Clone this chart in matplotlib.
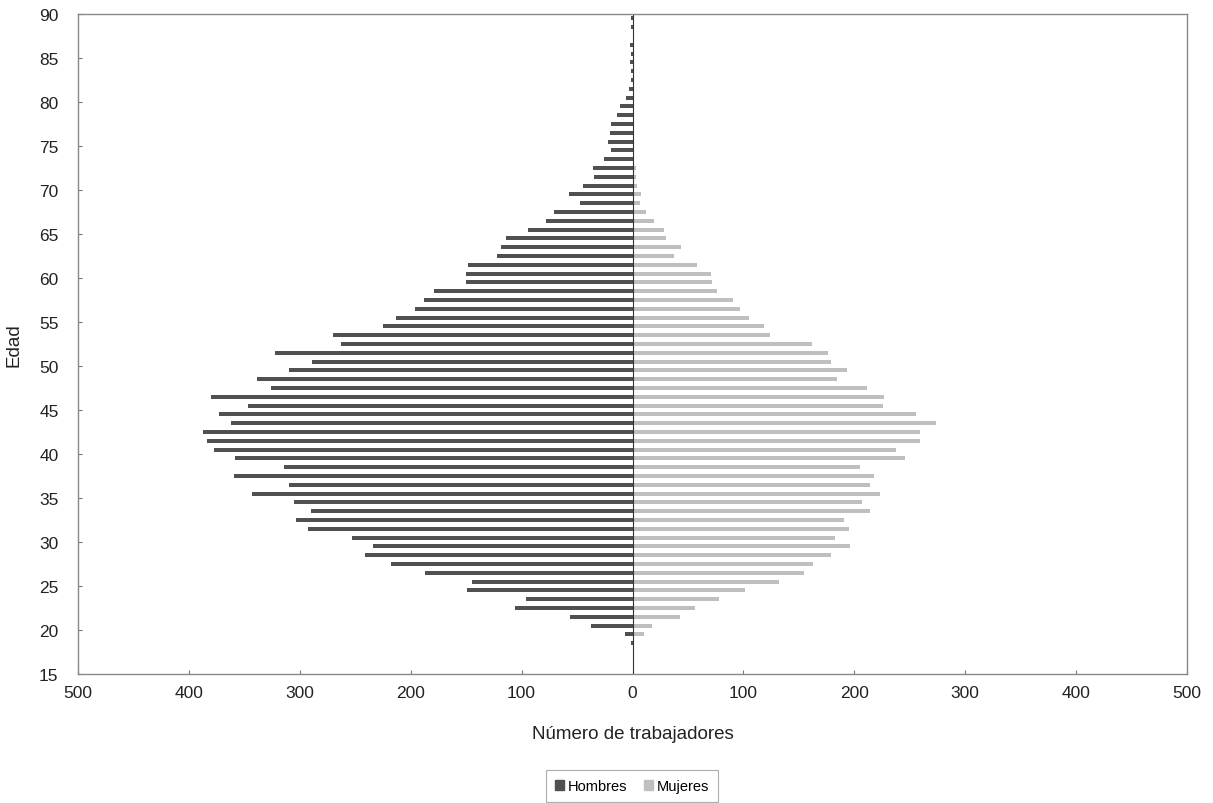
import numpy as np
import matplotlib
matplotlib.use('Agg')
import matplotlib.pyplot as plt
from matplotlib.patches import Patch
from matplotlib.ticker import FuncFormatter

plt.rcParams['font.family'] = ['Liberation Sans', 'DejaVu Sans']

# Edad de 18 a 89 años
edades = list(range(18, 90))

hombres = [
    1, 7, 37, 56, 106, 96, 149, 145, 187, 218,          # 18-27
    241, 234, 253, 293, 303, 290, 305, 343, 310, 359,   # 28-37
    314, 358, 377, 384, 387, 362, 373, 347, 380, 326,   # 38-47
    339, 310, 289, 322, 263, 270, 225, 213, 196, 188,   # 48-57
    179, 150, 150, 148, 122, 119, 114, 94, 78, 71,      # 58-67
    47, 57, 45, 35, 36, 26, 19, 22, 20, 19,             # 68-77
    14, 11, 6, 3, 1, 1, 2, 1, 2, 0,                     # 78-87
    1, 1,                                               # 88-89
]

mujeres = [
    0, 10, 18, 43, 56, 78, 101, 132, 155, 163,          # 18-27
    179, 196, 183, 195, 191, 214, 207, 223, 214, 218,   # 28-37
    205, 246, 238, 259, 259, 274, 256, 226, 227, 211,   # 38-47
    184, 193, 179, 176, 162, 124, 119, 105, 97, 91,     # 48-57
    76, 72, 71, 58, 37, 44, 30, 28, 19, 12,             # 58-67
    7, 8, 4, 3, 3, 1, 0, 0, 0, 0,                       # 68-77
    0, 0, 0, 0, 0, 0, 0, 0, 0, 0,                       # 78-87
    0, 0,                                               # 88-89
]

color_h = '#505050'
color_m = '#bfbfbf'

fig = plt.figure(figsize=(12.13, 8.04), dpi=100)
ax = fig.add_axes([0.0643, 0.1604, 0.9143, 0.8209])

y = np.array(edades) + 0.5
ax.barh(y, -np.array(hombres), height=0.45, color=color_h, linewidth=0)
ax.barh(y, np.array(mujeres), height=0.45, color=color_m, linewidth=0)
ax.axvline(0, color='#333333', linewidth=0.8)

ax.set_xlim(-500, 500)
ax.set_ylim(15, 90)
ax.set_xticks(range(-500, 501, 100))
ax.set_yticks(range(15, 91, 5))
ax.xaxis.set_major_formatter(FuncFormatter(lambda v, p: f"{abs(int(v))}"))
ax.tick_params(axis='both', direction='in', length=3, color='#777777',
               labelsize=12.5, labelcolor='#222222')
ax.tick_params(axis='x', pad=8)
ax.tick_params(axis='y', pad=14)

for s in ax.spines.values():
    s.set_color('#888888')
    s.set_linewidth(1)

ax.set_xlabel("Número de trabajadores", fontsize=13.5, color='#222222', labelpad=18)
ax.set_ylabel("Edad", fontsize=13.5, color='#222222', labelpad=12)

handles = [Patch(color=color_h), Patch(color=color_m)]
leg = fig.legend(handles, ["Hombres", "Mujeres"], loc='center',
                 bbox_to_anchor=(0.521, 0.021), ncol=2, fontsize=10.5,
                 frameon=True, fancybox=False, edgecolor='#999999',
                 handlelength=0.6, handleheight=0.6, handletextpad=0.25,
                 columnspacing=1.2, borderpad=0.6, borderaxespad=0)
leg.get_frame().set_linewidth(0.8)

plt.savefig('out.png', dpi=100)
